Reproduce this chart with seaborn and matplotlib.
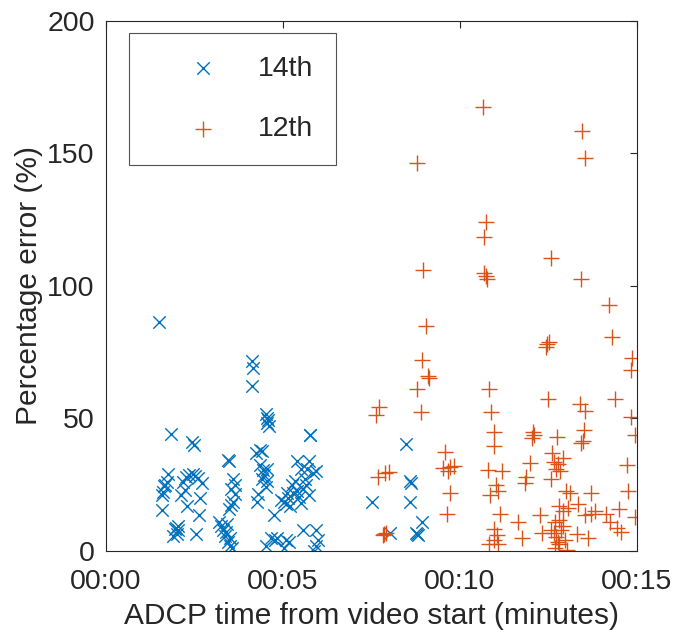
import matplotlib
matplotlib.use("Agg")
import matplotlib.pyplot as plt
import seaborn as sns
import pandas as pd

# minutes from video start, percentage error
x_14th = [1.50, 1.84, 2.44, 2.48, 4.13, 4.17, 4.14, 4.52, 4.55, 4.58, 4.54, 4.60, 5.76, 5.78,
          3.45, 3.47, 8.48, 8.58, 8.62, 8.60, 7.52, 8.80, 8.83, 8.77, 8.94, 8.03,
          1.62, 1.60, 1.68, 1.77, 1.72, 1.64, 1.60, 1.94, 2.00, 1.91, 2.03, 2.17, 2.23, 2.29,
          2.11, 2.26, 2.35, 2.47, 2.53, 2.59, 2.66, 2.62, 2.56, 2.72, 1.99, 2.05,
          3.20, 3.26, 3.32, 3.38, 3.45, 3.51, 3.57, 3.42, 3.51, 3.60, 3.54, 3.64, 3.54, 3.48,
          3.60, 3.66, 3.40,
          4.26, 4.30, 4.24, 4.36, 4.42, 4.36, 4.44, 4.48, 4.54, 4.51, 4.42, 4.51, 4.66, 4.78,
          4.84, 4.75, 4.56,
          5.03, 5.08, 5.17, 4.96, 5.02, 5.08, 5.14, 5.20, 5.12, 5.27, 5.33, 5.39, 5.45, 5.51,
          5.57, 5.63, 5.69, 5.75, 5.39, 5.51, 5.66, 5.75, 5.85, 5.94, 5.57, 5.94, 6.00, 5.94,
          5.88, 5.30]
y_14th = [86.4, 44.3, 41.2, 39.8, 71.5, 68.9, 62.4, 51.5, 50.3, 49.4, 48.2, 47.0, 43.6, 43.8,
          34.4, 34.0, 40.3, 26.5, 25.7, 18.6, 18.3, 6.4, 6.0, 6.7, 11.0, 6.6,
          22.2, 21.0, 25.0, 29.0, 26.0, 24.5, 15.4, 8.4, 6.5, 5.8, 7.8, 26.0, 23.0, 17.0,
          21.2, 28.0, 28.5, 29.0, 28.2, 27.5, 20.0, 13.4, 6.5, 25.5, 8.8, 9.5,
          11.0, 9.5, 8.0, 5.8, 3.5, 2.0, 1.2, 10.2, 5.0, 27.0, 23.5, 21.3, 17.5, 15.8,
          18.6, 25.0, 7.0,
          18.6, 21.3, 37.0, 38.2, 37.8, 32.5, 30.6, 28.6, 26.4, 24.2, 27.0, 2.0, 5.0, 4.3,
          5.0, 13.4, 31.0,
          1.2, 4.3, 3.5, 19.2, 18.4, 17.6, 19.9, 17.0, 21.9, 24.9, 26.4, 22.6, 20.3, 18.0,
          23.3, 27.1, 30.9, 33.9, 33.9, 30.9, 24.9, 21.2, 29.4, 30.1, 8.0, 8.0, 4.3, 2.0,
          0.0, 22.0]

x_12th = [10.64, 13.46, 13.52, 8.79, 10.73, 10.69, 12.57, 8.97, 10.67, 10.73, 10.76, 13.42,
          14.22, 9.04, 14.31, 12.43, 12.47, 12.52, 14.85, 14.83, 8.94, 9.09, 9.13, 8.79,
          10.81, 12.49, 14.37, 7.72, 7.63, 8.91, 10.87, 13.40, 13.52, 14.82, 10.95, 12.06,
          12.04, 12.10, 13.50, 13.48, 13.43, 14.95, 12.75, 9.59, 10.97, 12.60, 12.66, 12.78,
          12.90, 12.72, 12.84, 9.52, 9.72, 9.82, 9.67, 10.79, 11.19, 11.97, 11.88, 11.84,
          14.73, 12.58, 7.69, 7.88, 8.00, 9.71, 10.85, 11.07, 11.03, 13.00, 13.10, 13.70,
          14.76, 9.64, 11.13, 11.64, 12.25, 12.80, 12.92, 13.04, 13.34, 13.52, 13.70, 13.82,
          14.13, 14.49, 14.25, 14.43, 14.55, 14.95, 7.85, 7.82, 7.90, 10.95, 11.04, 10.97,
          11.09, 10.81, 11.74, 12.31, 12.57, 12.65, 12.72, 12.78, 12.68, 12.80, 13.03, 12.97,
          13.30, 13.62, 12.85, 12.70, 12.80, 12.90]
y_12th = [167.5, 158.3, 148.3, 146.3, 124.0, 118.3, 110.7, 106.2, 105.0, 103.9, 102.7, 102.8,
          92.9, 84.9, 80.6, 77.0, 78.2, 79.0, 72.7, 68.1, 71.9, 65.9, 65.1, 61.0,
          61.0, 57.5, 57.5, 54.4, 51.4, 52.5, 52.5, 55.5, 52.9, 50.6, 44.9, 44.9,
          42.7, 43.6, 45.6, 41.5, 40.8, 43.8, 43.0, 37.4, 39.5, 37.0, 33.5, 32.8,
          35.0, 31.0, 30.2, 31.2, 31.6, 32.0, 30.0, 30.6, 30.1, 33.2, 27.8, 25.6,
          32.4, 27.0, 27.8, 29.4, 29.7, 22.0, 21.0, 22.5, 24.8, 22.5, 21.7, 21.7,
          22.5, 14.1, 14.1, 11.1, 13.4, 17.0, 15.2, 16.3, 17.9, 13.4, 14.1, 14.9,
          14.1, 16.0, 11.1, 8.8, 7.3, 12.9, 6.5, 6.2, 6.8, 8.2, 6.1, 4.3,
          2.7, 2.7, 5.0, 6.8, 8.0, 6.8, 5.3, 3.5, 1.2, 2.7, 0.5, 4.3,
          6.4, 5.0, 8.0, 11.0, 11.8, 9.5]

series = ["14th", "12th"]
colors = {"14th": "#0072BD", "12th": "#D95319"}
markers = {"14th": "x", "12th": "+"}
sizes = {"14th": 80, "12th": 140}
x_ticks = [0, 5, 10, 15]
x_tick_labels = ["00:00", "00:05", "00:10", "00:15"]
y_ticks = [0, 50, 100, 150, 200]

df = pd.concat([
    pd.DataFrame({"t": x_14th, "err": y_14th, "run": "14th"}),
    pd.DataFrame({"t": x_12th, "err": y_12th, "run": "12th"}),
])

sns.set_style("white")
plt.rcParams["font.family"] = ["Liberation Sans", "DejaVu Sans"]

fig = plt.figure(figsize=(6.74, 6.34), dpi=100)
ax = fig.add_axes([0.157, 0.131, 0.788, 0.836])

for name in series:
    sub = df[df["run"] == name]
    sns.scatterplot(data=sub, x="t", y="err", marker=markers[name], color=colors[name],
                    s=sizes[name], linewidth=1.0, label=name, ax=ax)

ax.set_xlim(0, 15)
ax.set_ylim(0, 200)
ax.set_xticks(x_ticks)
ax.set_xticklabels(x_tick_labels)
ax.set_yticks(y_ticks)
ax.tick_params(direction="in", length=5, width=0.8, top=True, right=True,
               labelsize=20.5, colors="#262626")
ax.tick_params(axis="x", pad=13)
ax.tick_params(axis="y", pad=8)
for sp in ax.spines.values():
    sp.set_color("#262626")
    sp.set_linewidth(0.8)

ax.set_xlabel("ADCP time from video start (minutes)", fontsize=21.5, color="#262626", labelpad=5)
ax.set_ylabel("Percentage error (%)", fontsize=21.5, color="#262626", labelpad=3)

leg = ax.legend(loc="upper left", bbox_to_anchor=(0.043, 0.977), borderaxespad=0,
                fontsize=20.5, frameon=True, fancybox=False, edgecolor="#262626",
                borderpad=0.8, labelspacing=1.2, handlelength=3.6, handletextpad=0.15,
                markerscale=1.0)
leg.get_frame().set_linewidth(0.8)

fig.savefig("out.png", dpi=100, facecolor="white")
